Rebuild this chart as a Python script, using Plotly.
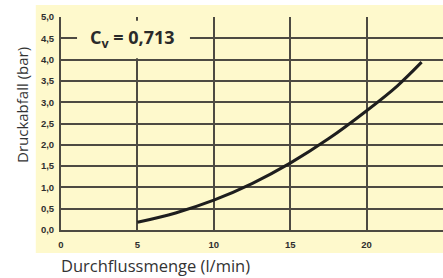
import plotly.graph_objects as go

# Data
flow = [5, 7.5, 10, 12.5, 15, 17.5, 20, 22, 23.6]          # l/min
pressure = [0.18, 0.40, 0.70, 1.09, 1.57, 2.14, 2.80, 3.38, 3.94]  # bar
x_ticks = [0, 5, 10, 15, 20, 25]
x_labels = ["0", "5", "10", "15", "20", "25"]
y_ticks = [0, 0.5, 1, 1.5, 2, 2.5, 3, 3.5, 4, 4.5, 5]
y_labels = ["0,0", "0,5", "1,0", "1,5", "2,0", "2,5", "3,0", "3,5", "4,0", "4,5", "5,0"]
cv_label = "C<sub>v</sub> = 0,713"
x_title = "Durchflussmenge (l/min)"
y_title = "Druckabfall (bar)"

BG = "#FEF9CC"
GRID = "#4d4a42"
TICKFONT = dict(family="Liberation Sans Narrow, Liberation Sans, sans-serif", size=9.5, color="#2e2e2e")

fig = go.Figure()
fig.add_trace(go.Scatter(x=flow, y=pressure, mode="lines",
                         line=dict(color="#1e1e1e", width=3, shape="spline", smoothing=1.0),
                         hoverinfo="skip", showlegend=False))

# yellow panel behind the chart
fig.add_shape(type="rect", xref="paper", yref="paper", x0=-0.066, x1=1.2, y0=-0.108, y1=1.056,
              fillcolor=BG, line=dict(width=0), layer="below")
# box behind the Cv label, hiding the gridlines
fig.add_shape(type="rect", x0=1.05, x1=8.44, y0=4.03, y1=4.91,
              fillcolor=BG, line=dict(width=0), layer="between")

fig.add_annotation(x=4.7, y=4.5, text="<b>" + cv_label + "</b>", showarrow=False,
                   font=dict(family="Open Sans, sans-serif", size=18, color="#2a2a2a"),
                   xanchor="center", yanchor="middle")

fig.add_annotation(xref="paper", yref="paper", x=(155 - 61) / 382, y=(230 - 265) / 213,
                   text=x_title, showarrow=False,
                   font=dict(family="Open Sans, sans-serif", size=16.5, color="#333333"),
                   xanchor="center", yanchor="middle")
fig.add_annotation(xref="paper", yref="paper", x=(22 - 61) / 382, y=(230 - 105) / 213,
                   text=y_title, showarrow=False,
                   font=dict(family="Open Sans, sans-serif", size=15, color="#333333"), textangle=-90,
                   xanchor="center", yanchor="middle")

fig.update_xaxes(range=[0, 25], tickvals=x_ticks, ticktext=["<b>%s</b>" % t for t in x_labels],
                 showgrid=True, gridcolor=GRID, gridwidth=1.5, showline=True, linecolor=GRID, linewidth=2,
                 zeroline=False, tickfont=TICKFONT, ticks="", ticklabelstandoff=5, automargin=False)
fig.update_yaxes(range=[0, 5], tickvals=y_ticks, ticktext=["<b>%s</b>" % t for t in y_labels],
                 showgrid=True, gridcolor=GRID, gridwidth=1.5, showline=True, linecolor=GRID, linewidth=2,
                 zeroline=False, tickfont=TICKFONT, ticks="", ticklabelstandoff=3, automargin=False)

fig.update_layout(width=443, height=278, margin=dict(l=61, r=0, t=17, b=48, autoexpand=False),
                  paper_bgcolor="white", plot_bgcolor="rgba(0,0,0,0)")

fig.write_html("out.html", config={"displayModeBar": False},
               post_script="document.body.style.margin='0';document.body.style.overflow='hidden';")
